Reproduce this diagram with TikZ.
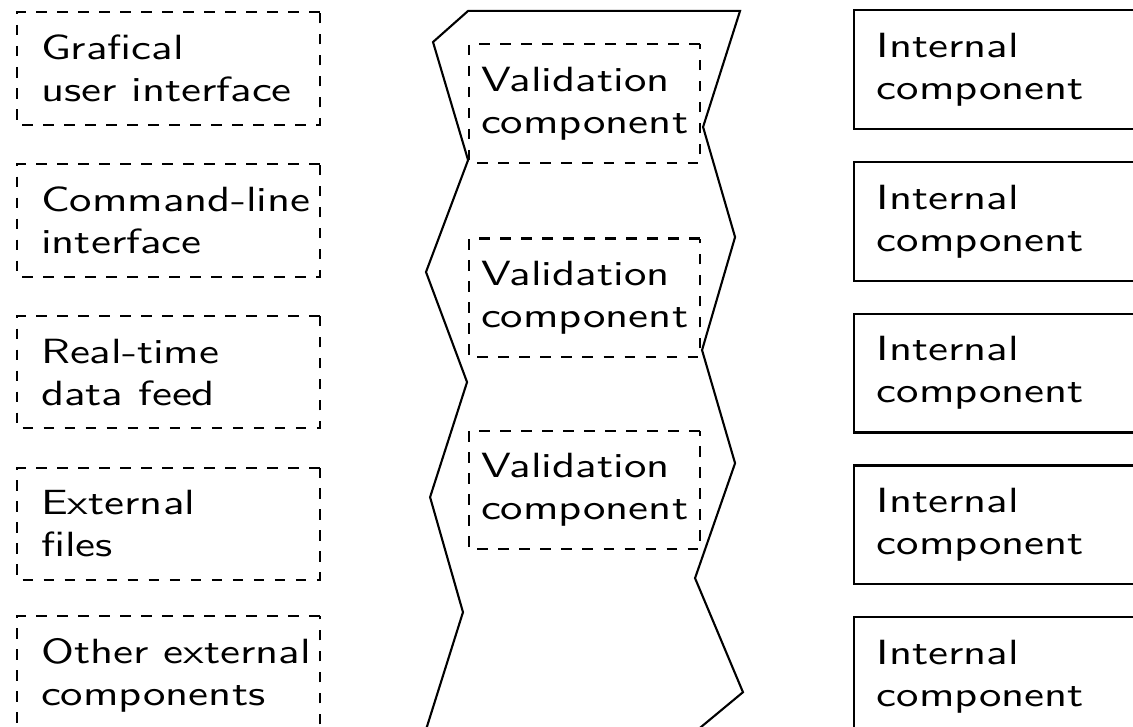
\documentclass[tikz,border=0pt]{standalone}
\usepackage{tikz}

\begin{document}
\begin{tikzpicture}[xscale=1.28, transform shape, line width=0.6pt,
    every node/.style={font=\sffamily, align=left},
    extbox/.style={draw, dashed, text width=2cm, inner xsep=5.3pt, inner ysep=6.5pt},
    valbox/.style={draw, dashed, inner xsep=2.6pt, inner ysep=6.5pt},
    intbox/.style={draw, anchor=west, text width=2.4cm, inner xsep=5pt, inner ysep=6.5pt}]
    \useasboundingbox (0,0) rectangle (8.886,-7.291);
    \clip (0,0) rectangle (8.886,-7.291);

    % External sources
    \node[extbox] (gui) at (1.322,-0.690) {Grafical\\user interface};
    \node[extbox] (cli) at (1.322,-2.213) {\mbox{Command-line}\\interface};
    \node[extbox] (feed) at (1.322,-3.736) {Real-time\\data feed};
    \node[extbox] (files) at (1.322,-5.259) {External\\files};
    \node[extbox] (other) at (1.322,-6.782) {\mbox{Other external}\\components};

    % Boundary wall
    \draw (3.671,-0.110) -- (5.804,-0.110) -- (5.514,-1.275) -- (5.765,-2.380)
        -- (5.506,-3.515) -- (5.765,-4.650) -- (5.451,-5.804) -- (5.827,-6.949)
        -- (5.373,-7.431) -- (3.315,-7.431) -- (3.631,-6.146) -- (3.373,-4.991)
        -- (3.663,-3.836) -- (3.341,-2.731) -- (3.671,-1.607) -- (3.396,-0.422)
        -- cycle;

    % Validation layer
    \foreach \i/\y in {1/-1.040, 2/-2.990, 3/-4.920}
        \node[valbox] (val\i) at (4.585,\y) {Validation\\component};

    % Internal components
    \foreach \i in {1,...,5}
        \node[intbox] (int\i) at (6.690,{-0.700-1.523*(\i-1)}) {Internal\\component};
\end{tikzpicture}
\end{document}
